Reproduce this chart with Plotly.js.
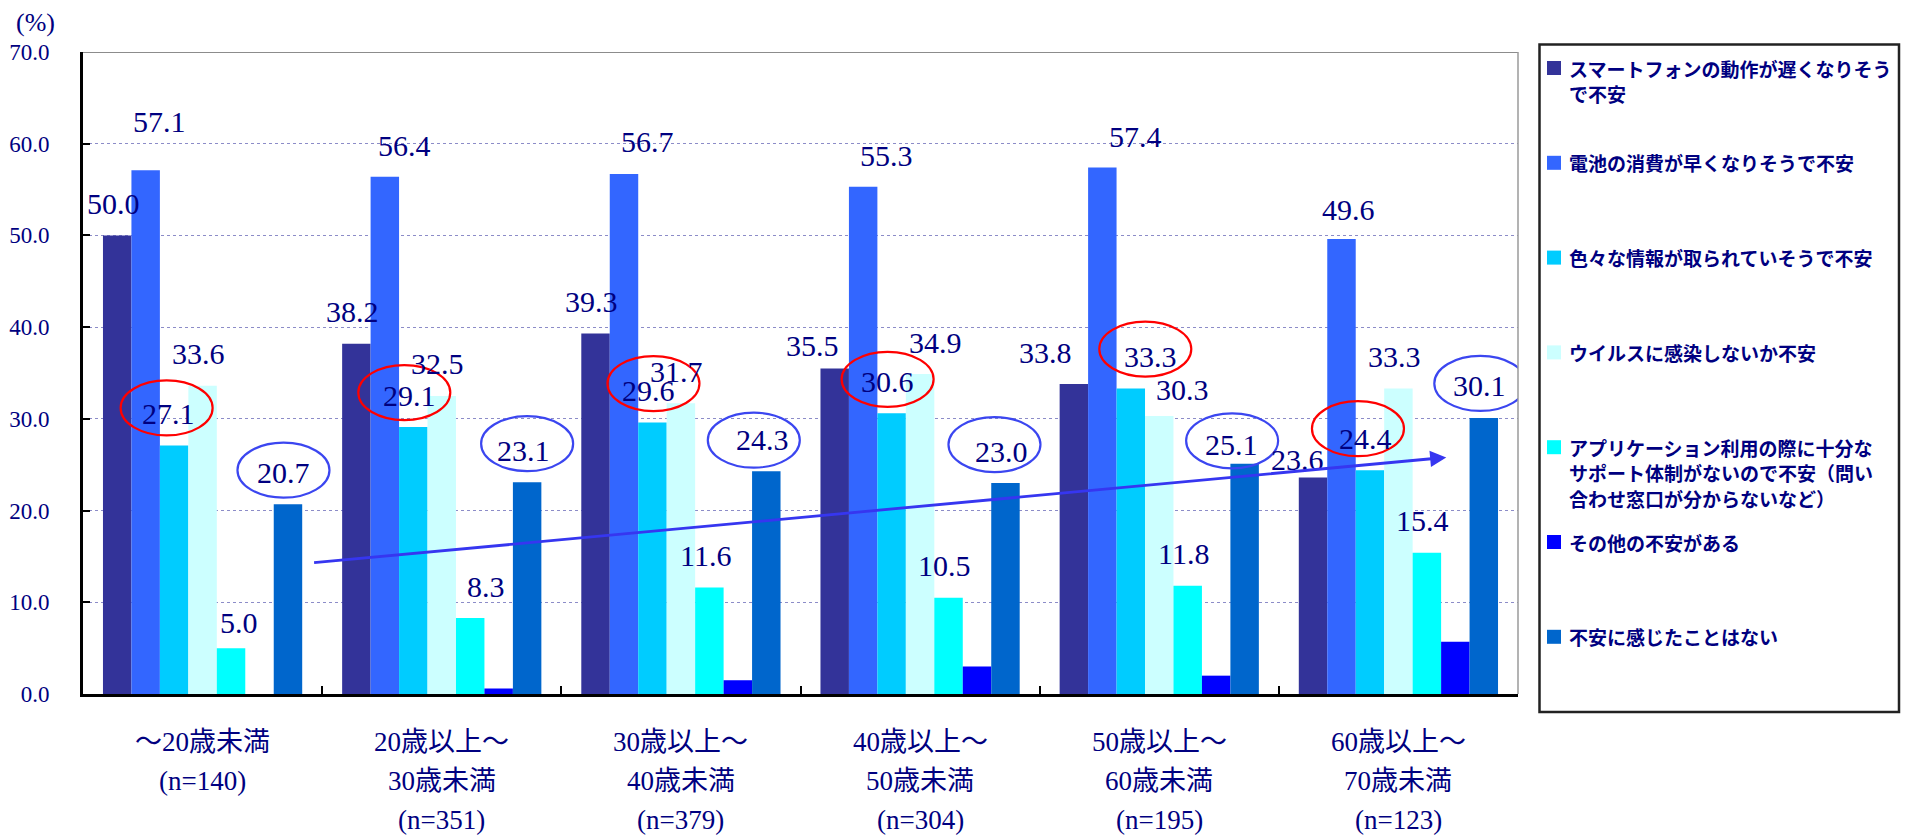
<!DOCTYPE html>
<html>
<head>
<meta charset="utf-8">
<script src="https://cdn.plot.ly/plotly-3.0.1.min.js"></script>
<style>
html,body{margin:0;padding:0;background:#ffffff;}
#chart{width:1914px;height:836px;}
</style>
</head>
<body>
<div id="chart"></div>
<script>
// ---------------- DATA ----------------
const categories = ['～20歳未満', '20歳以上～30歳未満', '30歳以上～40歳未満', '40歳以上～50歳未満', '50歳以上～60歳未満', '60歳以上～70歳未満'];
const categoryLabelLines = [
  ['～20歳未満', '(n=140)'],
  ['20歳以上～', '30歳未満', '(n=351)'],
  ['30歳以上～', '40歳未満', '(n=379)'],
  ['40歳以上～', '50歳未満', '(n=304)'],
  ['50歳以上～', '60歳未満', '(n=195)'],
  ['60歳以上～', '70歳未満', '(n=123)']
];
const seriesNames = [
  'スマートフォンの動作が遅くなりそうで不安',
  '電池の消費が早くなりそうで不安',
  '色々な情報が取られていそうで不安',
  'ウイルスに感染しないか不安',
  'アプリケーション利用の際に十分なサポート体制がないので不安（問い合わせ窓口が分からないなど）',
  'その他の不安がある',
  '不安に感じたことはない'
];
const legendLines = [
  ['スマートフォンの動作が遅くなりそう', 'で不安'],
  ['電池の消費が早くなりそうで不安'],
  ['色々な情報が取られていそうで不安'],
  ['ウイルスに感染しないか不安'],
  ['アプリケーション利用の際に十分な', 'サポート体制がないので不安（問い', '合わせ窓口が分からないなど）'],
  ['その他の不安がある'],
  ['不安に感じたことはない']
];
const slowDevice = [50.0, 38.2, 39.3, 35.5, 33.8, 23.6];
const battery    = [57.1, 56.4, 56.7, 55.3, 57.4, 49.6];
const infoLeak   = [27.1, 29.1, 29.6, 30.6, 33.3, 24.4];
const virus      = [33.6, 32.5, 31.7, 34.9, 30.3, 33.3];
const appSupport = [5.0, 8.3, 11.6, 10.5, 11.8, 15.4];
const otherWorry = [0.0, 0.6, 1.5, 3.0, 2.0, 5.7];
const noWorry    = [20.7, 23.1, 24.3, 23.0, 25.1, 30.1];
const yTicks = [0, 10, 20, 30, 40, 50, 60, 70];
const yAxisUnit = '(%)';
// trend arrow (data coordinates: category position, percent)
const trendFrom = {x: 0.46, y: 14.3};
const trendTo   = {x: 5.20, y: 25.8};

// ---------------- STYLE ----------------
const seriesValues = [slowDevice, battery, infoLeak, virus, appSupport, otherWorry, noWorry];
const seriesColors = ['#333399', '#3366FF', '#00CCFF', '#CCFFFF', '#00FFFF', '#0000FF', '#0066CC'];
const labeledSeries = [0, 1, 2, 3, 4, 6];
const NAVY = '#000080';
const SERIF = '"Liberation Serif", "Times New Roman", "Noto Sans CJK JP", serif';
const SANS = '"Noto Sans CJK JP", "Noto Sans", sans-serif';
const BARGAP = 0.167;
const NS = seriesValues.length;

// label placement tweaks (pixels): [series][category] -> [dx, dy]
const defaultLabelShift = [-4, 32];
const labelShiftOverrides = {
  '0-3': [-22, 23], '0-4': [-28, 32], '0-5': [-16, 18],
  '1-0': [14, 49], '1-1': [20, 31], '1-2': [23, 32], '1-3': [23, 31], '1-4': [33, 31], '1-5': [7, 30],
  '2-0': [-6, 32], '2-4': [20, 32],
  '3-3': [15, 31], '3-4': [23, 27],
  '4-0': [8, 26], '4-1': [16, 31],
  '6-4': [-13, 19]
};
// ellipse centre offsets from bar top (pixels)
const redEllipse  = [[-7.5, 37.5], [-9, 34.5], [1, 39], [-4, 34], [14.5, 39.5], [-12, 41.5]];
const blueEllipse = [[-4.5, 34], [0, 38.5], [-12.5, 31], [-11, 38.5], [-12.5, 23], [-3.5, 34.5]];

// ---------------- GEOMETRY HELPERS ----------------
const M = {l: 83, r: 396, t: 52, b: 142};
const W = 1914, H = 836;
const PW = W - M.l - M.r, PH = H - M.t - M.b;
const pxX = x => (x - M.l) / PW;
const pxY = y => (H - M.b - y) / PH;
const barPos = (i, k) => i + (k - (NS - 1) / 2) * (1 - BARGAP) / NS;

// ---------------- TRACES ----------------
const traces = seriesValues.map((vals, k) => ({
  type: 'bar',
  x: categories,
  y: vals,
  name: seriesNames[k],
  marker: {color: seriesColors[k], line: {width: 0}},
  showlegend: false,
  hoverinfo: 'x+y+name'
}));

// ---------------- ANNOTATIONS ----------------
const annotations = [];
const shapes = [];

labeledSeries.forEach(k => {
  seriesValues[k].forEach((v, i) => {
    const s = labelShiftOverrides[k + '-' + i] || defaultLabelShift;
    annotations.push({
      x: barPos(i, k), xref: 'x', y: v, yref: 'y',
      text: v.toFixed(1), showarrow: false,
      xanchor: 'center', yanchor: 'middle',
      xshift: s[0], yshift: s[1],
      font: {family: SERIF, size: 30, color: NAVY}
    });
  });
});

function ellipse(k, i, off, color) {
  const v = seriesValues[k][i];
  shapes.push({
    type: 'circle', xref: 'x', yref: 'y',
    xsizemode: 'pixel', ysizemode: 'pixel',
    xanchor: barPos(i, k), yanchor: v,
    x0: off[0] - 46, x1: off[0] + 46,
    y0: off[1] - 27.5, y1: off[1] + 27.5,
    line: {color: color, width: 2.2},
    fillcolor: 'rgba(0,0,0,0)',
    layer: 'above'
  });
}
infoLeak.forEach((v, i) => ellipse(2, i, redEllipse[i], '#FF0000'));
noWorry.forEach((v, i) => ellipse(6, i, blueEllipse[i], '#3B46F0'));

// category labels (multi-line, wide spacing)
categoryLabelLines.forEach((lines, i) => {
  lines.forEach((t, j) => {
    annotations.push({
      x: i, xref: 'x', y: pxY(742 + 39 * j), yref: 'paper',
      text: t, showarrow: false, xanchor: 'center', yanchor: 'middle',
      font: {family: SERIF, size: 27, color: NAVY}
    });
  });
});

// y unit label
annotations.push({
  x: pxX(35), xref: 'paper', y: pxY(22), yref: 'paper',
  text: yAxisUnit, showarrow: false, xanchor: 'center', yanchor: 'middle',
  font: {family: SERIF, size: 26, color: NAVY}
});

// legend box
shapes.push({
  type: 'rect', xref: 'paper', yref: 'paper',
  x0: pxX(1539.5), x1: pxX(1899), y0: pxY(712), y1: pxY(44.5),
  line: {color: '#222222', width: 2.5}, fillcolor: 'rgba(0,0,0,0)', layer: 'above'
});
const legendTop = 68, legendStep = 94.8, legendLineGap = 25.5;
legendLines.forEach((lines, k) => {
  const cy = legendTop + legendStep * k;
  shapes.push({
    type: 'rect', xref: 'paper', yref: 'paper',
    x0: pxX(1547), x1: pxX(1561), y0: pxY(cy + 7), y1: pxY(cy - 7),
    line: {width: 0}, fillcolor: seriesColors[k], layer: 'above'
  });
  lines.forEach((t, j) => {
    annotations.push({
      x: pxX(1567), xref: 'paper', y: pxY(cy + legendLineGap * j), yref: 'paper',
      text: '<b>' + t + '</b>', showarrow: false, xanchor: 'left', yanchor: 'middle',
      font: {family: SANS, size: 19, color: NAVY}
    });
  });
});

// plot frame: top & right grey borders
shapes.push({type: 'line', xref: 'paper', yref: 'y', x0: 0, x1: 1, y0: yTicks[yTicks.length - 1], y1: yTicks[yTicks.length - 1],
  line: {color: '#8C8C8C', width: 2}, layer: 'above'});
shapes.push({type: 'line', xref: 'paper', yref: 'y', x0: 1, x1: 1, y0: 0, y1: yTicks[yTicks.length - 1],
  line: {color: '#9A9A9A', width: 1.5}, layer: 'above'});

// trend arrow
annotations.push({
  x: trendTo.x, y: trendTo.y, xref: 'x', yref: 'y',
  ax: trendFrom.x, ay: trendFrom.y, axref: 'x', ayref: 'y',
  text: '', showarrow: true, arrowhead: 2, arrowsize: 1.15, arrowwidth: 2.8,
  arrowcolor: '#3636F0', standoff: 0, startstandoff: 0
});

// ---------------- LAYOUT ----------------
const layout = {
  width: W, height: H,
  margin: M,
  paper_bgcolor: '#ffffff', plot_bgcolor: '#ffffff',
  barmode: 'group', bargap: BARGAP, bargroupgap: 0,
  showlegend: false,
  font: {family: SERIF, color: NAVY},
  xaxis: {
    type: 'category', categoryorder: 'array', categoryarray: categories,
    range: [-0.5, categories.length - 0.5],
    showticklabels: false, ticks: 'inside', tickson: 'boundaries',
    ticklen: 8, tickwidth: 2, tickcolor: '#000000',
    showline: true, linecolor: '#000000', linewidth: 3,
    showgrid: false, zeroline: false, fixedrange: true
  },
  yaxis: {
    range: [yTicks[0], yTicks[yTicks.length - 1]],
    tickmode: 'array', tickvals: yTicks, ticktext: yTicks.map(v => v.toFixed(1)),
    ticks: 'inside', ticklen: 7, tickwidth: 2, tickcolor: '#000000',
    ticklabelstandoff: 26,
    tickfont: {family: SERIF, size: 23, color: NAVY},
    showline: true, linecolor: '#000000', linewidth: 3,
    showgrid: true, gridcolor: '#8C8CC8', gridwidth: 1, griddash: 'dot',
    zeroline: false, fixedrange: true
  },
  annotations: annotations,
  shapes: shapes
};

Plotly.newPlot('chart', traces, layout, {displayModeBar: false, staticPlot: true});
</script>
</body>
</html>
